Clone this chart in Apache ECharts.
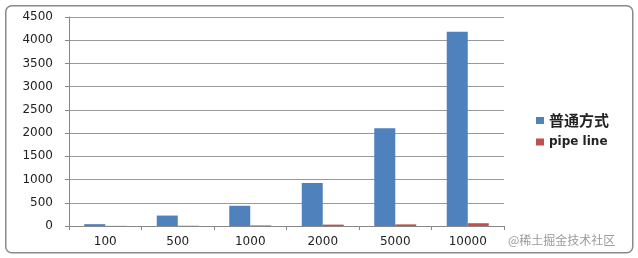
<!DOCTYPE html>
<html><head><meta charset="utf-8">
<script src="https://cdn.jsdelivr.net/npm/echarts@6/dist/echarts.min.js"></script>
<style>html,body{margin:0;padding:0;background:#fff}#c{width:638px;height:258px}</style>
</head><body><div id="c"></div>
<script>
const categories = ['100','500','1000','2000','5000','10000'];
const normalValues = [40, 225, 435, 925, 2105, 4185];
const pipelineValues = [3, 5, 12, 30, 35, 60];
const seriesNames = ['普通方式', 'pipe line'];
const yTicks = [0, 500, 1000, 1500, 2000, 2500, 3000, 3500, 4000, 4500];

const chart = echarts.init(document.getElementById('c'), null, {renderer: 'canvas'});
const font = '"DejaVu Sans", Verdana, sans-serif';
chart.setOption({
  animation: false,
  backgroundColor: '#fff',
  graphic: [
    {type: 'rect', left: 5, top: 5, shape: {width: 627, height: 247, r: 6}, style: {fill: '#fff', stroke: '#8a8a8a', lineWidth: 1.5}, z: -10},
    {type: 'text', left: 508, top: 234, style: {text: '@稀土掘金技术社区', fill: '#9a9a9a', font: '12px "Noto Sans CJK SC"'}}
  ],
  grid: {left: 69, right: 134, top: 17, bottom: 32, containLabel: false},
  legend: {
    orient: 'vertical', left: 531, top: 108, itemWidth: 8, itemHeight: 7, itemGap: 8,
    icon: 'rect',
    data: [
      {name: seriesNames[0], textStyle: {fontSize: 15, fontWeight: 'bold', fontFamily: '"Noto Sans CJK SC"', color: '#222'}},
      {name: seriesNames[1], textStyle: {fontSize: 12, fontWeight: 'bold', fontFamily: font, color: '#222'}}
    ]
  },
  xAxis: {
    type: 'category', data: categories,
    axisLine: {lineStyle: {color: '#888', width: 1}},
    axisTick: {show: true, length: 4, lineStyle: {color: '#888'}},
    axisLabel: {color: '#222', fontSize: 12, fontFamily: font, margin: 10}
  },
  yAxis: {
    type: 'value', min: 0, max: yTicks[yTicks.length-1], interval: 500,
    axisLine: {show: true, lineStyle: {color: '#888'}},
    axisTick: {show: true, length: 4, lineStyle: {color: '#888'}},
    splitLine: {lineStyle: {color: '#999', width: 1}},
    axisLabel: {color: '#222', fontSize: 12, fontFamily: font, margin: 16, formatter: v => String(v)}
  },
  series: [
    {name: seriesNames[0], type: 'bar', data: normalValues, barWidth: 21, barGap: '0%', itemStyle: {color: '#4F81BD'}},
    {name: seriesNames[1], type: 'bar', data: pipelineValues, barWidth: 21, barGap: '0%', itemStyle: {color: '#C0504D'}}
  ]
});
</script></body></html>
